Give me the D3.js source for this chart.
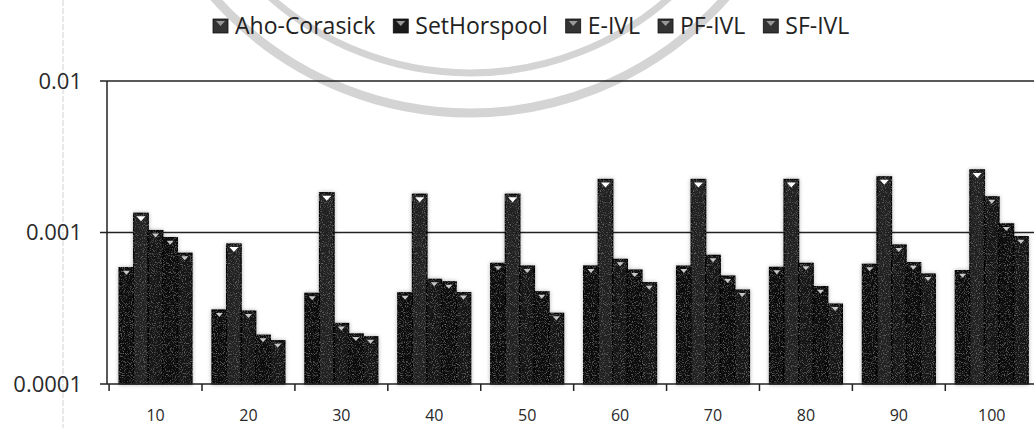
<!DOCTYPE html>
<html>
<head>
<meta charset="utf-8">
<script src="https://cdn.jsdelivr.net/npm/d3@7"></script>
<style>
html,body{margin:0;padding:0;background:#fff;}
svg{display:block;}
</style>
</head>
<body>
<svg id="chart" width="1034" height="428"></svg>
<script>
// ---- data ----
const categories = ["10","20","30","40","50","60","70","80","90","100"];
const seriesNames = ["Aho-Corasick","SetHorspool","E-IVL","PF-IVL","SF-IVL"];
const ahoCorasick = [0.000586,0.000308,0.000397,0.000400,0.000626,0.000601,0.000600,0.000589,0.000617,0.000560];
const setHorspool = [0.00134,0.00084,0.00183,0.00179,0.00179,0.00224,0.00224,0.00224,0.00233,0.00259];
const eIVL       = [0.00103,0.000303,0.000251,0.000491,0.000601,0.000665,0.000707,0.000626,0.000827,0.00172];
const pfIVL      = [0.000925,0.000210,0.000214,0.000473,0.000406,0.000565,0.000516,0.000439,0.000632,0.00114];
const sfIVL      = [0.000730,0.000193,0.000205,0.000401,0.000293,0.000466,0.000417,0.000337,0.000532,0.000938];
const yTickValues = [0.0001,0.001,0.01];
const yTickLabels = ["0.0001","0.001","0.01"];

const seriesValues = [ahoCorasick,setHorspool,eIVL,pfIVL,sfIVL];
const seriesFill = ["#0d0d0d","#242424","#131313","#101010","#161616"];

const svg = d3.select("#chart");
const W = 1034, H = 428;

// defs: grain filter
const defs = svg.append("defs");
const f = defs.append("filter").attr("id","grain").attr("x","-5%").attr("y","-5%").attr("width","110%").attr("height","110%");
f.append("feTurbulence").attr("type","fractalNoise").attr("baseFrequency","0.9").attr("numOctaves","2").attr("seed","3").attr("result","noise");
f.append("feColorMatrix").attr("in","noise").attr("type","matrix")
  .attr("values","0 0 0 0 0.36  0 0 0 0 0.36  0 0 0 0 0.36  0 0 0 1.2 -0.64").attr("result","speck");
f.append("feComposite").attr("in","speck").attr("in2","SourceGraphic").attr("operator","in").attr("result","speckIn");
f.append("feMerge").selectAll("feMergeNode").data(["SourceGraphic","speckIn"]).join("feMergeNode").attr("in",d=>d);

const halo = defs.append("filter").attr("id","halo").attr("x","-20%").attr("y","-5%").attr("width","140%").attr("height","110%");
halo.append("feGaussianBlur").attr("in","SourceAlpha").attr("stdDeviation","2").attr("result","b");
halo.append("feComponentTransfer").attr("in","b").attr("result","b2")
  .append("feFuncA").attr("type","linear").attr("slope","0.3");
const hm = halo.append("feMerge");
hm.append("feMergeNode").attr("in","b2");
hm.append("feMergeNode").attr("in","SourceGraphic");

// ---- watermark (faint seal rings) ----
const wm = svg.append("g").attr("fill","none").attr("stroke","#d4d4d4");
wm.append("circle").attr("cx",470).attr("cy",-228).attr("r",341).attr("stroke-width",9);
wm.append("circle").attr("cx",470).attr("cy",-228).attr("r",301).attr("stroke-width",7);

// faint scan margin line
svg.append("line").attr("x1",63).attr("x2",63).attr("y1",0).attr("y2",H)
  .attr("stroke","#d2d2d2").attr("stroke-width",1).attr("stroke-dasharray","6,2");

// ---- scales ----
const plotLeft = 107, plotTop = 81, plotBottom = 384;
const bandStep = 93.33;
const x0 = d3.scaleBand().domain(categories)
  .range([plotLeft, plotLeft + bandStep*categories.length])
  .paddingInner(0.215).paddingOuter(0.13);
const x1 = d3.scaleBand().domain(seriesNames).range([0, x0.bandwidth()]);
const y = d3.scaleLog().domain([0.0001,0.01]).range([plotBottom, plotTop]);

// ---- gridlines ----
svg.append("g").selectAll("line").data(yTickValues.slice(1)).join("line")
  .attr("x1",plotLeft-7).attr("x2",W)
  .attr("y1",d=>y(d)).attr("y2",d=>y(d))
  .attr("stroke","#222").attr("stroke-width",1.5);

// ---- bars ----
const barsG = svg.append("g").attr("filter","url(#halo)");
const groups = barsG.selectAll("g.grp").data(categories).join("g").attr("class","grp")
  .attr("transform",d=>`translate(${x0(d)},0)`);
groups.each(function(cat, ci){
  const g = d3.select(this);
  const recs = seriesNames.map((s,si)=>({s, si, v: seriesValues[si][ci]}));
  g.selectAll("rect").data(recs).join("rect")
    .attr("x",d=>x1(d.s)).attr("width",x1.bandwidth())
    .attr("y",d=>y(d.v)).attr("height",d=>plotBottom - y(d.v))
    .attr("fill",d=>seriesFill[d.si])
    .attr("stroke","#000").attr("stroke-width",1.2)
    .attr("filter","url(#grain)");
  g.selectAll("path.tri").data(recs).join("path").attr("class","tri")
    .attr("d",d=>{
      const cx = x1(d.s) + x1.bandwidth()/2, ty = y(d.v) + 3;
      const hw = d.si===1 ? 4.5 : 3.5, h = d.si===1 ? 5 : 4;
      return `M${cx-hw},${ty}L${cx+hw},${ty}L${cx},${ty+h}Z`;
    })
    .attr("fill",d=>d.si===1 ? "#ffffff" : "#c8c8c8");
});

// ---- axes ----
svg.append("line").attr("x1",plotLeft).attr("x2",plotLeft).attr("y1",plotTop).attr("y2",plotBottom)
  .attr("stroke","#222").attr("stroke-width",1.5);
svg.append("line").attr("x1",plotLeft-7).attr("x2",W).attr("y1",plotBottom).attr("y2",plotBottom)
  .attr("stroke","#222").attr("stroke-width",1.5);
const boundaries = categories.map(c=>x0(c) - x0.step()*x0.paddingInner()/2);
svg.append("g").selectAll("line").data(boundaries).join("line")
  .attr("x1",d=>d).attr("x2",d=>d).attr("y1",plotBottom).attr("y2",plotBottom+7)
  .attr("stroke","#222").attr("stroke-width",1.5);

// y labels
svg.append("g").selectAll("text").data(yTickValues).join("text")
  .attr("x",82).attr("y",d=>y(d)).attr("dy","0.36em")
  .attr("text-anchor","end")
  .attr("font-family","'Open Sans', sans-serif").attr("font-size",22)
  .attr("fill","#2a2a2a")
  .text((d,i)=>yTickLabels[i]);

// x labels
svg.append("g").selectAll("text").data(categories).join("text")
  .attr("x",d=>x0(d)+x0.bandwidth()/2).attr("y",421)
  .attr("text-anchor","middle")
  .attr("font-family","'Open Sans', sans-serif").attr("font-size",16)
  .attr("fill","#2a2a2a")
  .text(d=>d);

// ---- legend ----
const leg = svg.append("g");
let lx = 213;
seriesNames.forEach((name,i)=>{
  const item = leg.append("g");
  item.append("rect").attr("x",lx).attr("y",19).attr("width",15).attr("height",14)
    .attr("fill",i===1 ? "#1a1a1a" : "#333").attr("stroke","#111").attr("stroke-width",0.8);
  item.append("path")
    .attr("d",`M${lx+3},${21}L${lx+12},${21}L${lx+7.5},${26}Z`)
    .attr("fill","#999");
  const t = item.append("text").attr("x",lx+22).attr("y",34)
    .attr("font-family","'Open Sans', sans-serif").attr("font-size",23)
    .attr("fill","#222").text(name);
  const w = t.node().getComputedTextLength();
  lx = lx + 22 + w + 18;
});
</script>
</body>
</html>
